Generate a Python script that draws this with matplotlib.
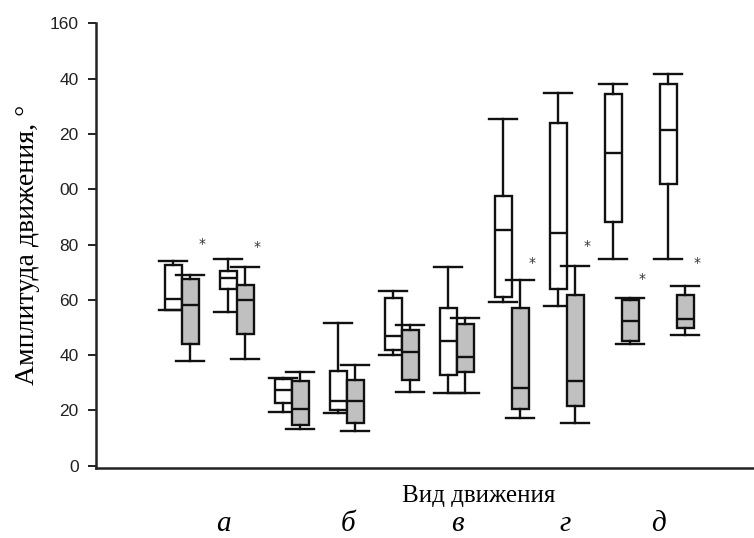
import matplotlib
matplotlib.use("Agg")
import matplotlib.pyplot as plt

# box summaries per pair: whisker low, Q1, median, Q3, whisker high
pairs = [1, 2, 3, 4, 5, 6, 7, 8, 9, 10]

white_lo = [56.3, 55.6, 19.5, 19.2, 39.9, 26.2, 59.1, 57.9, 74.8, 74.6]
white_q1 = [56.3, 63.9, 22.6, 20.0, 41.8, 32.9, 61.0, 64.0, 88.3, 101.9]
white_med = [60.4, 67.8, 27.3, 23.4, 46.9, 45.2, 85.4, 84.1, 113.0, 121.4]
white_q3 = [72.7, 70.5, 31.3, 34.2, 60.5, 57.0, 97.6, 124.1, 134.3, 137.9]
white_hi = [73.9, 74.7, 31.6, 51.6, 63.3, 71.7, 125.5, 134.9, 138.0, 141.6]

gray_lo = [37.9, 38.6, 13.2, 12.6, 26.7, 26.2, 17.3, 15.6, 44.0, 47.4]
gray_q1 = [43.9, 47.6, 14.7, 15.3, 31.2, 33.8, 20.7, 21.5, 45.3, 49.9]
gray_med = [58.0, 59.8, 20.4, 23.3, 41.0, 39.2, 28.0, 30.5, 52.5, 53.0]
gray_q3 = [67.6, 65.2, 30.5, 31.2, 49.1, 51.2, 56.9, 61.6, 60.0, 61.7]
gray_hi = [68.9, 71.8, 33.9, 36.6, 50.9, 53.3, 67.3, 72.4, 60.6, 65.1]

# significance marks (*) next to the grey box
star_pairs = [1, 2, 7, 8, 9, 10]
star_y = [80.2, 79.2, 73.3, 79.3, 67.5, 73.3]

ytick_vals = [0, 20, 40, 60, 80, 100, 120, 140, 160]
ytick_text = ["0", "20", "40", "60", "80", "00", "20", "40", "160"]
group_letters = ["а", "б", "в", "г", "д"]
letter_px = [223, 348, 457, 565, 658]

W, H = 754, 538
BOX_W = 0.31
CAP_W = 0.5


def stats(lo, q1, med, q3, hi):
    return [dict(whislo=a, q1=b, med=c, q3=d, whishi=e, fliers=[])
            for a, b, c, d, e in zip(lo, q1, med, q3, hi)]


fig = plt.figure(figsize=(W / 100, H / 100), dpi=100)
ax = fig.add_axes([96 / W, 1 - 468 / H, 1 - 96 / W, (468 - 23.3) / H])

line = dict(color="#111111", linewidth=1.7)
for st, off, fc in [(stats(white_lo, white_q1, white_med, white_q3, white_hi), -BOX_W / 2, "white"),
                    (stats(gray_lo, gray_q1, gray_med, gray_q3, gray_hi), BOX_W / 2, "#c0c0c0")]:
    ax.bxp(st, positions=[p + off for p in pairs], widths=BOX_W, capwidths=CAP_W,
           patch_artist=True, showfliers=False,
           boxprops=dict(facecolor=fc, edgecolor="#111111", linewidth=1.7),
           medianprops=line, whiskerprops=line, capprops=line, manage_ticks=False)

for p, y in zip(star_pairs, star_y):
    ax.text(p + 0.37, y, "*", ha="center", va="center", fontsize=10, color="#333333")

ax.set_xlim(-0.558, 11.405)
ax.set_ylim(-0.8, 160)
ax.set_yticks(ytick_vals)
ax.set_yticklabels(ytick_text, fontfamily="Liberation Sans", fontsize=12.5, color="#222222")
ax.set_xticks([])
ax.tick_params(axis="y", length=6, width=1.4, pad=6.5, color="#222222")
for s in ("top", "right"):
    ax.spines[s].set_visible(False)
for s in ("left", "bottom"):
    ax.spines[s].set_linewidth(1.8)
    ax.spines[s].set_color("#222222")

fig.text(28 / W, 1 - 245 / H, "Амплитуда движения, °", rotation=90, ha="center", va="center",
         fontfamily="Liberation Serif", fontsize=20)
fig.text(479 / W, 1 - 496 / H, "Вид движения", ha="center", va="center",
         fontfamily="Liberation Serif", fontsize=18)
for lab, px in zip(group_letters, letter_px):
    fig.text(px / W, 1 - 524 / H, lab, ha="center", va="center", fontfamily="Liberation Serif",
             style="italic", fontsize=21)

fig.savefig("out.png", dpi=100)
